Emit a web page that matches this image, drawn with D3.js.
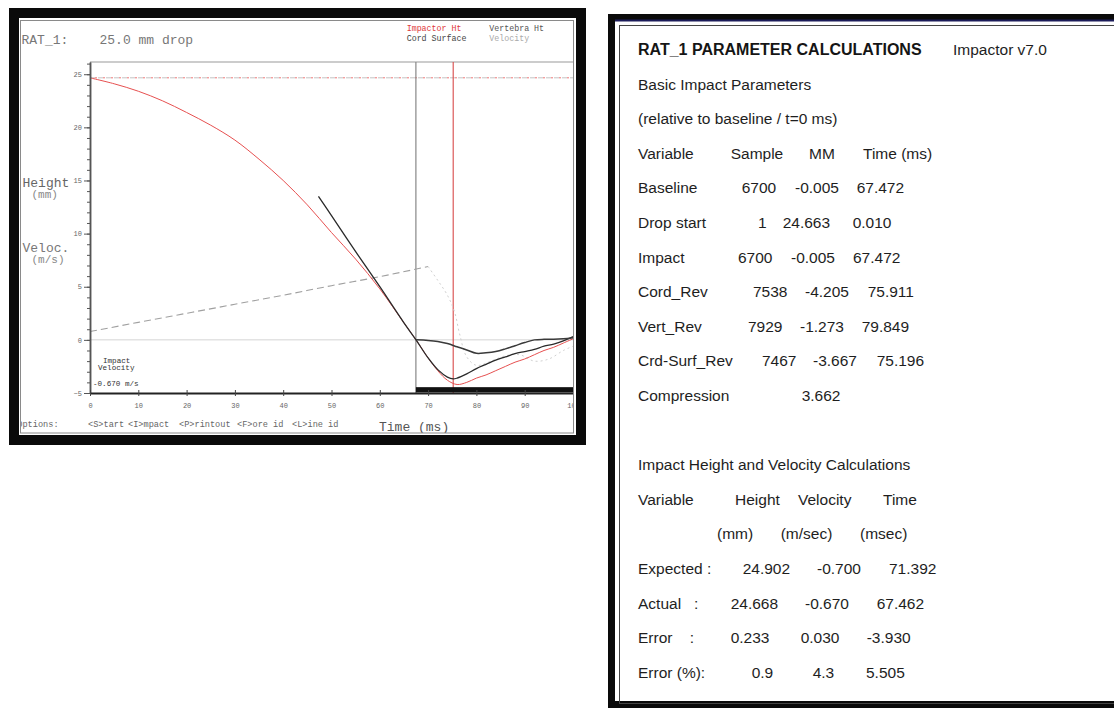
<!DOCTYPE html>
<html>
<head>
<meta charset="utf-8">
<script src="https://cdn.jsdelivr.net/npm/d3@7"></script>
<style>
  html, body { margin: 0; padding: 0; background: #fff; }
  svg { display: block; }
  .mono { font-family: "Liberation Mono", "DejaVu Sans Mono", monospace; }
  .sans { font-family: "Liberation Sans", Arial, sans-serif; }
</style>
</head>
<body>
<script>
// ---------------- DATA ----------------
const chartTitle = "RAT_1:    25.0 mm drop";
const legendItems = ["Impactor Ht", "Cord Surface", "Vertebra Ht", "Velocity"];
const yMajorTicks = [-5, 0, 5, 10, 15, 20, 25];
const yMinorTicks = [-5,-4,-3,-2,-1,0,1,2,3,4,5,6,7,8,9,10,11,12,13,14,15,16,17,18,19,20,21,22,23,24,25,26];
const xTicks = [0, 10, 20, 30, 40, 50, 60, 70, 80, 90, 100];
const optionItems = ["Options:", "<S>tart", "<I>mpact", "<P>rintout", "<F>ore id", "<L>ine id"];

const dropStartHeight = 24.663;
const impactTime = 67.472;
const crdSurfRevTime = 75.196;

// Impactor height (mm) vs time (ms)
const impactorT = [0,5,10,15,20,25,30,35,40,45,50,55,60,65,67.5,70,72,74,76,78,80,82,84,86,88,90,92,94,96,98,100];
const impactorH = [24.66,24.1,23.4,22.5,21.4,20.2,18.8,17.0,15.0,12.7,10.1,7.6,4.8,1.6,0.0,-1.7,-2.9,-3.8,-4.2,-4.0,-3.6,-3.3,-2.9,-2.5,-2.1,-1.8,-1.4,-1.0,-0.7,-0.3,0.1];

// Cord surface height
const cordT = [47.3,50,55,60,65,67.5,70,72,74,75.2,76,78,80,82,84,86,88,90,92,94,96,98,100];
const cordH = [13.5,11.7,8.3,5.0,1.6,0.0,-1.7,-2.8,-3.5,-3.67,-3.6,-3.2,-2.7,-2.3,-1.9,-1.6,-1.3,-1.1,-0.9,-0.6,-0.4,-0.1,0.3];

// Vertebra height
const vertT = [67.5,70,72,74,76,78,80,82,84,86,88,90,92,94,96,98,100];
const vertH = [0,-0.05,-0.15,-0.35,-0.65,-0.95,-1.27,-1.22,-1.1,-0.85,-0.55,-0.25,0,0.05,0.05,0.1,0.2];

// Velocity (pre impact, dashed) and after impact (faint dotted)
const velT = [0,10,20,30,40,50,60,70];
const velV = [0.78,1.65,2.5,3.35,4.2,5.1,5.95,6.9];
const velPostT = [70,72,74,75.5,76.5,78,80,83,86,89,92,95,98,100];
const velPostV = [6.9,5.6,4.2,2.6,0.6,-1.6,-2.4,-2.0,-1.5,-1.4,-2.0,-1.8,-1.0,-0.6];

const impactVelocityLabel = ["Impact", "Velocity", "-0.670 m/s"];

// Report panel text
const reportTitle = "RAT_1 PARAMETER CALCULATIONS";
const reportVersion = "Impactor v7.0";
const basicSection = "Basic Impact Parameters";
const basicNote = "(relative to baseline / t=0 ms)";
const basicHeader = ["Variable", "Sample", "MM", "Time (ms)"];
const basicRows = [
  ["Baseline", "6700", "-0.005", "67.472"],
  ["Drop start", "1", "24.663", "0.010"],
  ["Impact", "6700", "-0.005", "67.472"],
  ["Cord_Rev", "7538", "-4.205", "75.911"],
  ["Vert_Rev", "7929", "-1.273", "79.849"],
  ["Crd-Surf_Rev", "7467", "-3.667", "75.196"]
];
const compressionRow = ["Compression", "3.662"];
const impactSection = "Impact Height and Velocity Calculations";
const impactHeader = ["Variable", "Height", "Velocity", "Time"];
const impactUnits = ["", "(mm)", "(m/sec)", "(msec)"];
const impactRows = [
  ["Expected :", "24.902", "-0.700", "71.392"],
  ["Actual   :", "24.668", "-0.670", "67.462"],
  ["Error    :", "0.233", "0.030", "-3.930"],
  ["Error (%):", "0.9", "4.3", "5.505"]
];

// ---------------- LAYOUT ----------------
const W = 1114, H = 708;
const svg = d3.select("body").append("svg").attr("width", W).attr("height", H);
svg.append("rect").attr("width", W).attr("height", H).attr("fill", "#fff");

// ===== LEFT PANEL (plot) =====
const left = svg.append("g");
const defs = svg.append("defs");
defs.append("clipPath").attr("id", "inner").append("rect")
  .attr("x", 21).attr("y", 21).attr("width", 552.5).attr("height", 412);

const plot = left.append("g").attr("clip-path", "url(#inner)");

const x = d3.scaleLinear().domain([0, 100]).range([90, 573]);
const y = d3.scaleLinear().domain([-5, 26.15]).range([393, 62]);

// top border of plot
plot.append("line").attr("x1", x(0)).attr("x2", x(100)).attr("y1", y(26.15)).attr("y2", y(26.15))
  .attr("stroke", "#999").attr("stroke-width", 1);

// zero reference line
plot.append("line").attr("x1", x(0)).attr("x2", x(100)).attr("y1", y(0)).attr("y2", y(0))
  .attr("stroke", "#d4d4d4").attr("stroke-width", 1);

// drop-start dotted lines
plot.append("line").attr("x1", x(0)).attr("x2", x(100)).attr("y1", y(dropStartHeight)).attr("y2", y(dropStartHeight))
  .attr("stroke", "#c4c4c4").attr("stroke-width", 1).attr("stroke-dasharray", "5,3");
plot.append("line").attr("x1", x(0)).attr("x2", x(100)).attr("y1", y(dropStartHeight)).attr("y2", y(dropStartHeight))
  .attr("stroke", "#e77").attr("stroke-width", 1).attr("stroke-dasharray", "2,6").attr("stroke-dashoffset", 3);

// vertical markers
plot.append("line").attr("x1", x(impactTime)).attr("x2", x(impactTime)).attr("y1", y(26.15)).attr("y2", y(-5))
  .attr("stroke", "#888").attr("stroke-width", 1.2);
plot.append("line").attr("x1", x(crdSurfRevTime)).attr("x2", x(crdSurfRevTime)).attr("y1", y(26.15)).attr("y2", y(-5))
  .attr("stroke", "#d84a4a").attr("stroke-width", 1.1);

// black bar after impact
plot.append("rect").attr("x", x(impactTime)).attr("y", y(-4.45))
  .attr("width", x(100) - x(impactTime)).attr("height", y(-4.95) - y(-4.45)).attr("fill", "#111");

const line = d3.line().curve(d3.curveMonotoneX);
const pts = (ts, vs) => ts.map((t, i) => [x(t), y(vs[i])]);

// velocity
plot.append("path").attr("d", line(pts(velT, velV))).attr("fill", "none")
  .attr("stroke", "#a0a0a0").attr("stroke-width", 1.1).attr("stroke-dasharray", "7,4");
plot.append("path").attr("d", d3.line().curve(d3.curveCatmullRom)(pts(velPostT, velPostV))).attr("fill", "none")
  .attr("stroke", "#d0d0d0").attr("stroke-width", 1).attr("stroke-dasharray", "2,3");

// impactor (red)
plot.append("path").attr("d", d3.line().curve(d3.curveCatmullRom)(pts(impactorT, impactorH))).attr("fill", "none")
  .attr("stroke", "#e65050").attr("stroke-width", 1);

// cord surface (black)
plot.append("path").attr("d", d3.line().curve(d3.curveCatmullRom)(pts(cordT, cordH))).attr("fill", "none")
  .attr("stroke", "#2a2a2a").attr("stroke-width", 1.3);

// vertebra
plot.append("path").attr("d", d3.line().curve(d3.curveCatmullRom)(pts(vertT, vertH))).attr("fill", "none")
  .attr("stroke", "#3a3a3a").attr("stroke-width", 1.5);

// axes
const yMinor = plot.append("g").attr("transform", `translate(${x(0)},0)`)
  .call(d3.axisLeft(y).tickValues(yMinorTicks).tickSize(3).tickSizeOuter(0).tickFormat(""));
const yAx = plot.append("g").attr("transform", `translate(${x(0)},0)`)
  .call(d3.axisLeft(y).tickValues(yMajorTicks).tickSize(6).tickSizeOuter(0).tickPadding(2).tickFormat(d3.format("d")));
[yMinor, yAx].forEach(g => {
  g.select(".domain").attr("stroke", "#555").attr("stroke-width", 1.5);
  g.selectAll(".tick line").attr("stroke", "#555");
});
yAx.selectAll("text").attr("class", "mono").attr("font-size", 7).attr("fill", "#666");

const xAx = plot.append("g").attr("transform", `translate(0,${y(-5)})`)
  .call(d3.axisBottom(x).tickValues(xTicks).tickSize(3).tickSizeOuter(0).tickPadding(7).tickFormat(d3.format("d")));
xAx.select(".domain").attr("stroke", "#222").attr("stroke-width", 2);
xAx.selectAll(".tick line").attr("stroke", "#444").attr("y1", -3);
xAx.selectAll("text").attr("class", "mono").attr("font-size", 7).attr("fill", "#666");

// texts
plot.append("text").attr("class", "mono").attr("x", 21.5).attr("y", 44.3).attr("font-size", 13)
  .attr("fill", "#777").attr("xml:space", "preserve").style("white-space", "pre").text(chartTitle);

const legendPos = [[406.7, 31, "#e03a3a"], [406.7, 40.7, "#444"], [489.3, 31, "#555"], [489.3, 40.7, "#aaa"]];
legendItems.forEach((t, i) => {
  plot.append("text").attr("class", "mono").attr("x", legendPos[i][0]).attr("y", legendPos[i][1])
    .attr("font-size", 8.3).attr("fill", legendPos[i][2]).text(t);
});

plot.append("text").attr("class", "mono").attr("x", 22.5).attr("y", 186.7).attr("font-size", 13).attr("fill", "#666").text("Height");
plot.append("text").attr("class", "mono").attr("x", 31.5).attr("y", 198).attr("font-size", 11).attr("fill", "#888").text("(mm)");
plot.append("text").attr("class", "mono").attr("x", 22.5).attr("y", 251.7).attr("font-size", 13).attr("fill", "#777").text("Veloc.");
plot.append("text").attr("class", "mono").attr("x", 31.5).attr("y", 263.3).attr("font-size", 11).attr("fill", "#888").text("(m/s)");

const ivPos = [[103, 362.7], [98, 370.3], [93, 385.7]];
impactVelocityLabel.forEach((t, i) => {
  plot.append("text").attr("class", "mono").attr("x", ivPos[i][0]).attr("y", ivPos[i][1])
    .attr("font-size", 7.6).attr("fill", "#333").text(t);
});

const optX = [17.3, 88, 128, 179, 237, 292];
optionItems.forEach((t, i) => {
  plot.append("text").attr("class", "mono").attr("x", optX[i]).attr("y", 427.3)
    .attr("font-size", 8.6).attr("fill", "#666").text(t);
});
plot.append("text").attr("class", "mono").attr("x", 379).attr("y", 430.7).attr("font-size", 13)
  .attr("fill", "#555").text("Time (ms)");

// frame
left.append("rect").attr("x", 14).attr("y", 13).attr("width", 567).attr("height", 427)
  .attr("fill", "none").attr("stroke", "#0a0a0a").attr("stroke-width", 10);
left.append("rect").attr("x", 20.5).attr("y", 20.5).attr("width", 553).attr("height", 412.5)
  .attr("fill", "none").attr("stroke", "#8a8a8a").attr("stroke-width", 1);

// ===== RIGHT PANEL (report) =====
const right = svg.append("g");
right.append("rect").attr("x", 611.5).attr("y", 17.5).attr("width", 520).attr("height", 687)
  .attr("fill", "#fff").attr("stroke", "#0a0a0a").attr("stroke-width", 7);
right.append("line").attr("x1", 615).attr("x2", 1114).attr("y1", 20.5).attr("y2", 20.5)
  .attr("stroke", "#1c1c5a").attr("stroke-width", 2);
right.append("rect").attr("x", 619.5).attr("y", 25.5).attr("width", 520).attr("height", 678)
  .attr("fill", "none").attr("stroke", "#444").attr("stroke-width", 1);

const row = i => 55 + 34.6 * i;
const LX = 638;
const txt = (xx, yy, s, opts = {}) => right.append("text").attr("class", "sans")
  .attr("x", xx).attr("y", yy).attr("font-size", opts.size || 15.5)
  .attr("font-weight", opts.bold ? "bold" : "normal").attr("fill", opts.fill || "#1e1e1e")
  .attr("xml:space", "preserve").style("white-space", "pre").text(s);

txt(LX, row(0), reportTitle, { bold: true, size: 16, fill: "#151515" });
txt(953, row(0), reportVersion);
txt(LX, row(1), basicSection);
txt(LX, row(2), basicNote);

const basicHeaderX = [LX, 730.7, 809, 863];
basicHeader.forEach((s, j) => txt(basicHeaderX[j], row(3), s));
const basicCellX = [
  [LX, 741.7, 795, 856.7],
  [LX, 758, 782.7, 852.7],
  [LX, 738, 791, 853],
  [LX, 753, 805, 867.7],
  [LX, 748, 800, 861.7],
  [LX, 762, 813, 876.7]
];
basicRows.forEach((r, i) => r.forEach((s, j) => txt(basicCellX[i][j], row(4 + i), s)));
const compX = [LX, 801.7];
compressionRow.forEach((s, j) => txt(compX[j], row(10), s));

txt(LX, row(12), impactSection);
const impactHeaderX = [LX, 735, 798, 883];
impactHeader.forEach((s, j) => txt(impactHeaderX[j], row(13), s));
const unitsX = [LX, 717, 780.7, 860];
impactUnits.forEach((s, j) => txt(unitsX[j], row(14), s));
const impactCellX = [
  [LX, 742.7, 817, 889],
  [LX, 730.7, 805, 876.7],
  [LX, 730.7, 800.7, 866.7],
  [LX, 751.7, 812.7, 866]
];
impactRows.forEach((r, i) => r.forEach((s, j) => txt(impactCellX[i][j], row(15 + i), s)));
</script>
</body>
</html>
